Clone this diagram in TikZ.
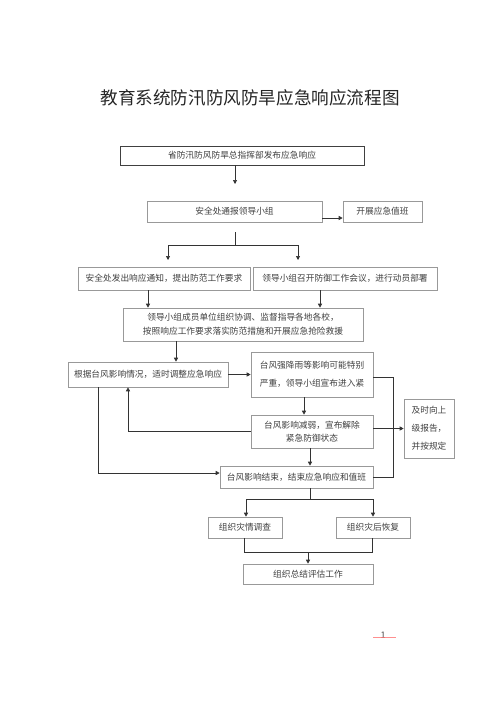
\documentclass[tikz,border=0pt]{standalone}
\usepackage{fontspec}
\setmainfont{Noto Sans CJK SC}
\usetikzlibrary{arrows.meta,calc}
\begin{document}
\begin{tikzpicture}[x=1pt,y=-1pt,
  box/.style={draw=black!40, line width=0.6pt, inner sep=0pt, align=center, text=black!75, font=\fontsize{8.7}{13}\selectfont},
  darkbox/.style={box, draw=black!75},
  arr/.style={draw=black!80, line width=0.7pt, -{Triangle[length=4pt,width=4pt]}},
  ln/.style={draw=black!80, line width=0.7pt}]
\useasboundingbox[fill=white] (0,0) rectangle (500,707);
% title
\node[font=\fontsize{17.6}{20}\selectfont, text=black!85] (title) at (250,98) {教育系统防汛防风防旱应急响应流程图};
% boxes
\node[darkbox, minimum width=244pt, minimum height=19pt] (b1) at (242,155.5) {省防汛防风防旱总指挥部发布应急响应};
\node[box, minimum width=175pt, minimum height=21pt] (b2) at (234.5,211.5) {安全处通报领导小组};
\node[box, minimum width=79pt, minimum height=21pt] (b2b) at (382.5,211.5) {开展应急值班};
\node[box, minimum width=172pt, minimum height=23pt] (b3) at (164,278.5) {安全处发出响应通知，提出防范工作要求};
\node[box, minimum width=184pt, minimum height=23pt] (b4) at (345,278.5) {领导小组召开防御工作会议，进行动员部署};
\node[box, minimum width=240pt, minimum height=33pt, font=\fontsize{8.7}{14}\selectfont] (b5) at (243,324.5) {领导小组成员单位组织协调、监督指导各地各校，\\按照响应工作要求落实防范措施和开展应急抢险救援};
\node[box, minimum width=160pt, minimum height=25pt] (b6) at (148,374.5) {根据台风影响情况，适时调整应急响应};
\node[box, minimum width=122pt, minimum height=45pt, font=\fontsize{8.7}{18}\selectfont] (b7) at (312,374.5) {台风强降雨等影响可能特别\\严重，领导小组宣布进入紧};
\node[box, minimum width=122pt, minimum height=33pt, font=\fontsize{8.7}{13}\selectfont] (b8) at (312,431.5) {台风影响减弱，宣布解除\\紧急防御状态};
\node[box, minimum width=50pt, minimum height=59pt, font=\fontsize{8.7}{18}\selectfont] (b9) at (429,428.5) {及时向上\\级报告，\\并按规定};
\node[box, minimum width=153pt, minimum height=22pt] (b10) at (296.5,477) {台风影响结束，结束应急响应和值班};
\node[box, minimum width=74pt, minimum height=21pt] (b11) at (245,527.5) {组织灾情调查};
\node[box, minimum width=74pt, minimum height=21pt] (b12) at (373,527.5) {组织灾后恢复};
\node[box, minimum width=130pt, minimum height=20pt] (b13) at (308,574) {组织总结评估工作};
% page number
\node[font=\fontsize{9}{10}\selectfont, text=black!70, inner sep=0pt] (pg) at (383,635.5) {1};
\coordinate (pgl) at (373,637.5);
\coordinate (pgr) at (396,637.5);
\draw[red!40!pink, line width=0.5pt, opacity=0.8] (pgl) -- (pgr);
% guide coordinates
\coordinate (a1) at (235,184);
\coordinate (s1) at (235,232);
\coordinate (s2) at (235,245);
\coordinate (s3) at (168,245);
\coordinate (s4) at (298,245);
\coordinate (t3) at (168,260);
\coordinate (t4) at (298,260);
\coordinate (v148) at (148,0);
\coordinate (v320) at (320,0);
\coordinate (v176) at (176,0);
\coordinate (v304) at (304,0);
\coordinate (v310) at (310,0);
\coordinate (v128) at (128,0);
\coordinate (v98) at (98,0);
\coordinate (v393) at (393,0);
\coordinate (v246) at (246,0);
\coordinate (v373) at (373,0);
\coordinate (v244) at (244,0);
\coordinate (v372) at (372,0);
\coordinate (v308) at (308,0);
\coordinate (h377) at (0,377);
\coordinate (h473) at (0,473);
\coordinate (h499) at (0,499);
\coordinate (h552) at (0,552);
% connectors
\draw[arr] (b1.south -| a1) -- (a1);
\draw[arr] ($(b2.east)+(0,6.5)$) -- ($(b2b.west)+(0,6.5)$);
\draw[ln] (s1) -- (s2);
\draw[ln] (s3) -- (s4);
\draw[arr] (s3) -- (t3);
\draw[arr] (s4) -- (t4);
\draw[arr] (b3.south -| v148) -- (b5.north -| v148);
\draw[arr] (b4.south -| v320) -- (b5.north -| v320);
\draw[arr] (b5.south -| v176) -- (b6.north -| v176);
\draw[arr] (b6.east) -- (b7.west);
\draw[arr] (b7.south -| v304) -- (b8.north -| v304);
\draw[arr] (b8.west) -| (b6.south -| v128);
\draw[arr] (b9.west -| b8.east) -- (b9.west);
\draw[ln] (b7.east |- h377) -- (v393 |- h377) -- (v393 |- b10.east) -- (b10.east);
\draw[arr] (b6.south -| v98) |- (b10.west |- h473);
\draw[arr] (b8.south -| v310) -- (b10.north -| v310);
\draw[ln] (b10.south -| v310) -- (v310 |- h499);
\draw[ln] (v246 |- h499) -- (v373 |- h499);
\draw[arr] (v246 |- h499) -- (b11.north -| v246);
\draw[arr] (v373 |- h499) -- (b12.north -| v373);
\draw[ln] (b11.south -| v244) |- (h552 -| v372) -- (b12.south -| v372);
\draw[arr] (v308 |- h552) -- (b13.north -| v308);
\end{tikzpicture}
\end{document}
